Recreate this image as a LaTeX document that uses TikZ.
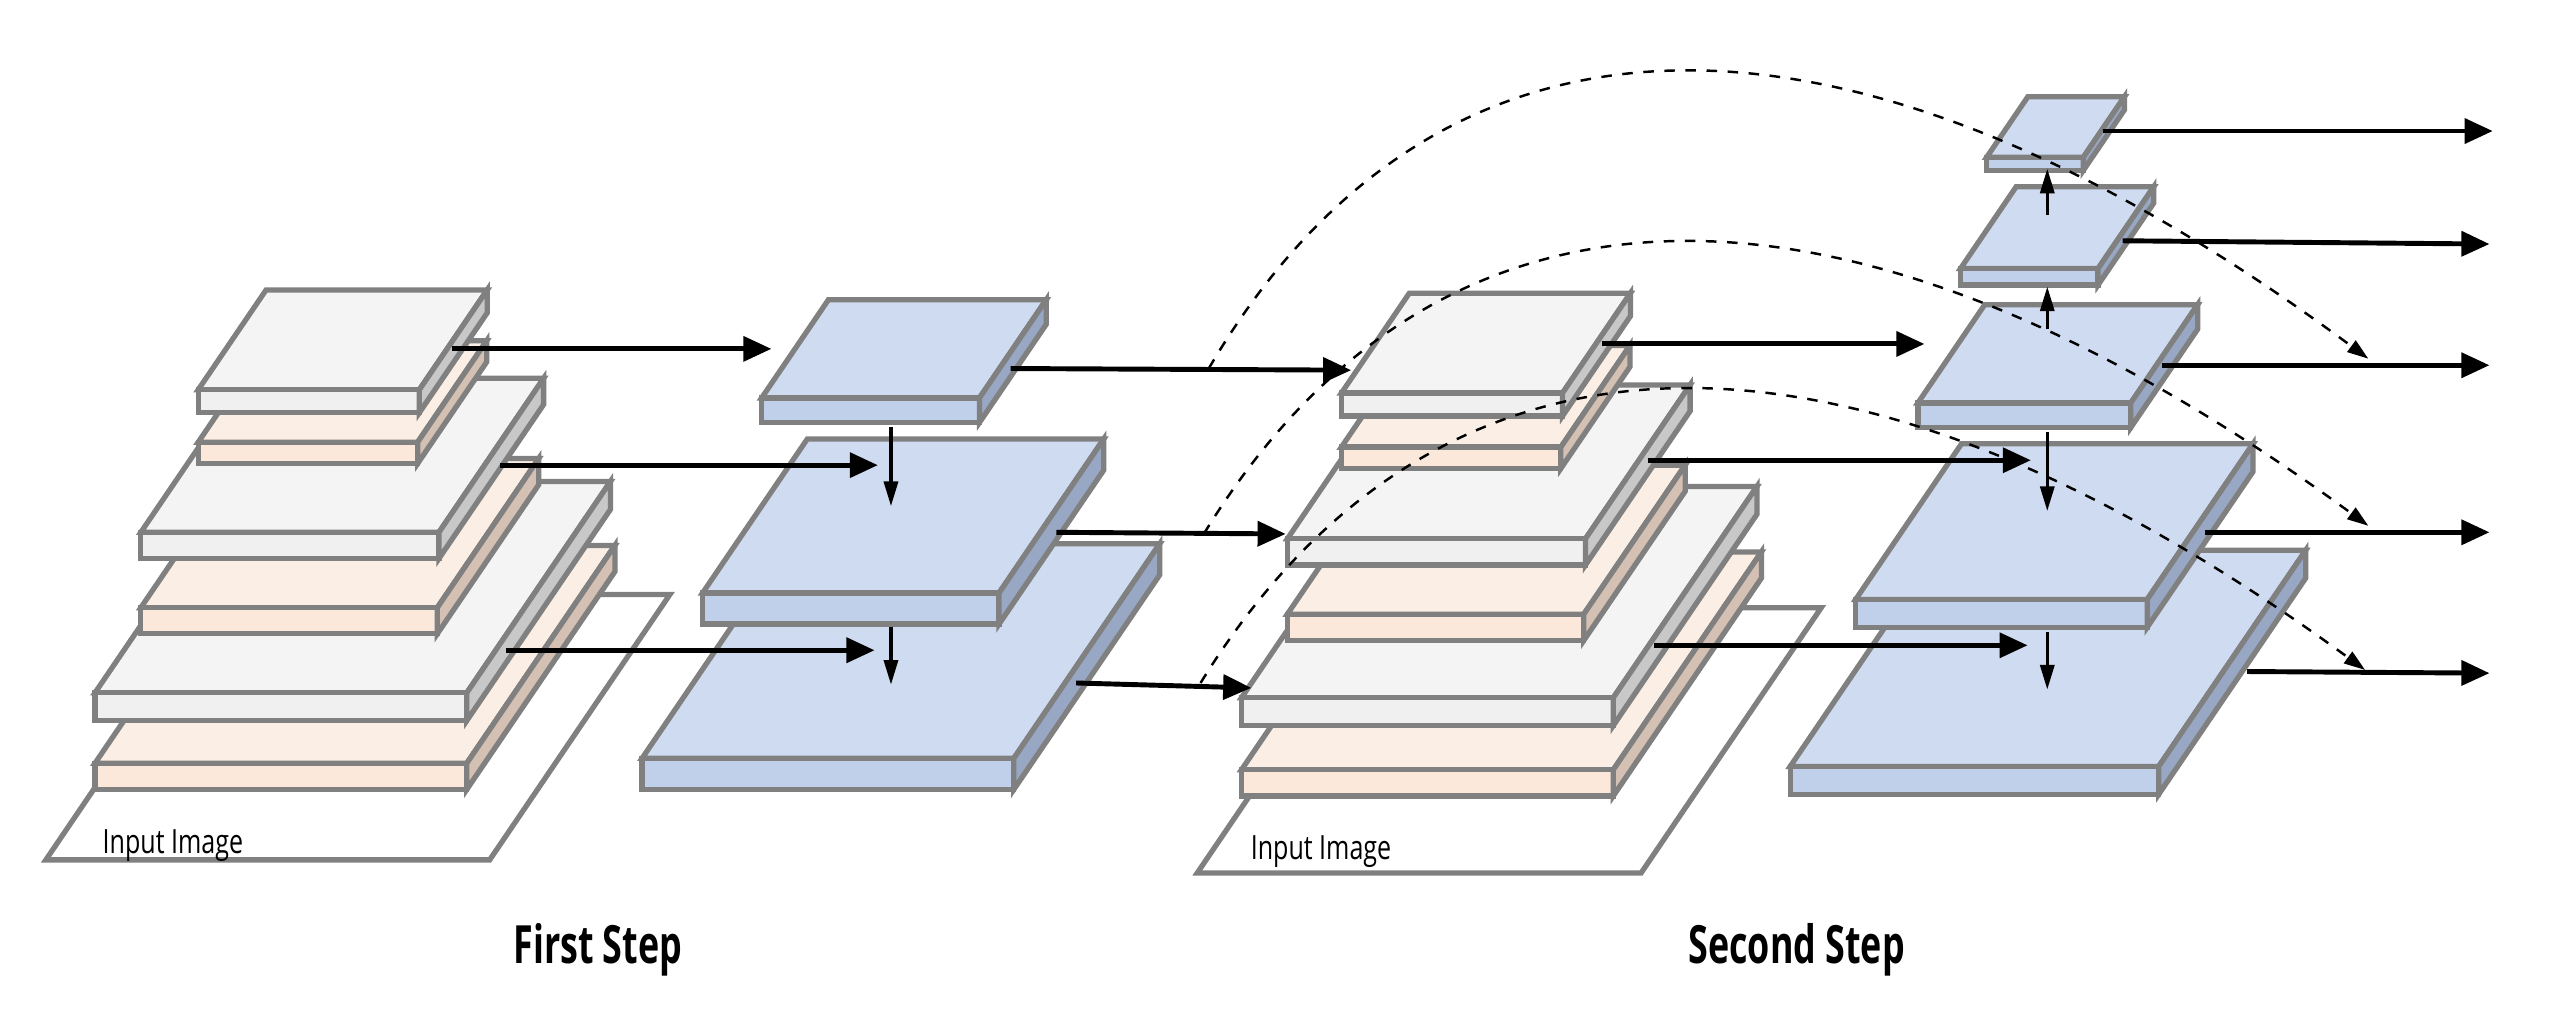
\documentclass[tikz,border=0pt]{standalone}
\usepackage{fontspec}
\setmainfont{Open Sans}
\usetikzlibrary{arrows.meta}

\definecolor{edge}{HTML}{808080}
\definecolor{wtop}{HTML}{F4F4F4}
\definecolor{wfront}{HTML}{F0F0F0}
\definecolor{wside}{HTML}{C8C8C8}
\definecolor{ptop}{HTML}{FBEEE4}
\definecolor{pfront}{HTML}{FBE8DB}
\definecolor{pside}{HTML}{D5C1B3}
\definecolor{btop}{HTML}{CFDBF0}
\definecolor{bfront}{HTML}{C0D0EA}
\definecolor{bside}{HTML}{98A8C4}

\tikzset{
  face/.style = {draw = edge, line width = 1.5pt, line join = miter},
  flow/.style = {line width = 1.4pt, -{Triangle[length = 8pt, width = 7pt]}},
  down/.style = {line width = 0.9pt, -{Triangle[length = 7pt, width = 4pt]}},
  skip/.style = {dashed, line width = 0.7pt, -{Triangle[length = 6pt, width = 4pt]}},
  title/.style = {font = \bfseries\fontsize{15}{18}\selectfont, xscale = 0.68},
  tag/.style = {font = \fontsize{9.5}{11}\selectfont, xscale = 0.75, anchor = west}
}

% slab: front-left top corner (x,y), width, depth, thickness, colour prefix
\newcommand{\slab}[6]{%
  \def\k{0.68}
  \filldraw [face, fill = #6top] (#1,#2) -- ({#1+#3},#2) -- ({#1+#3+\k*#4},{#2-#4}) -- ({#1+\k*#4},{#2-#4}) -- cycle;
  \filldraw [face, fill = #6front] (#1,#2) rectangle ({#1+#3},{#2+#5});
  \filldraw [face, fill = #6side] ({#1+#3},#2) -- ({#1+#3+\k*#4},{#2-#4}) -- ({#1+#3+\k*#4},{#2-#4+#5}) -- ({#1+#3},{#2+#5}) -- cycle;
}

\begin{document}
\begin{tikzpicture}[x = 0.01638cm, y = -0.01638cm]
  \useasboundingbox (0,0) rectangle (1560,620.3);

  % first step: image pyramid
  \filldraw [face, fill = white] (28,525) -- (299,525) -- (409,363) -- (138,363) -- cycle;
  \node [tag] (img1) at (57,516) {Input Image};
  \slab{58}{466}{227}{133}{16}{p}
  \slab{58}{423}{227}{129}{17}{w}
  \slab{86}{371}{181}{91}{16}{p}
  \slab{86}{325}{182}{94}{16}{w}
  \slab{121}{270}{134}{62}{13}{p}
  \slab{121}{238}{135}{61}{14}{w}

  % first step: feature pyramid
  \slab{392}{463}{227}{131}{19}{b}
  \slab{429}{362}{181}{94}{19}{b}
  \slab{465}{243}{133}{60}{15}{b}

  % second step: image pyramid
  \filldraw [face, fill = white] (731,533) -- (1002,533) -- (1112,371) -- (841,371) -- cycle;
  \node [tag] (img2) at (758,520) {Input Image};
  \slab{758}{470}{227}{133}{16}{p}
  \slab{758}{426}{227}{129}{17}{w}
  \slab{786}{375}{181}{91}{16}{p}
  \slab{786}{329}{182}{94}{16}{w}
  \slab{819}{273}{134}{62}{13}{p}
  \slab{819}{240}{135}{61}{14}{w}

  % second step: feature pyramid
  \slab{1093}{468}{225}{132}{17}{b}
  \slab{1133}{366}{178}{95}{17}{b}
  \slab{1171}{246}{130}{60}{15}{b}
  \slab{1197}{164}{84}{50}{10}{b}
  \slab{1213}{96}{59}{37}{8}{b}

  % arrow end points
  \coordinate (a1) at (276,213);   \coordinate (a1e) at (471,213);
  \coordinate (a2) at (305,284);   \coordinate (a2e) at (536,284);
  \coordinate (a3) at (309,397);   \coordinate (a3e) at (534,397);
  \coordinate (v1) at (544,261);   \coordinate (v1e) at (544,309);
  \coordinate (v2) at (544,383);   \coordinate (v2e) at (544,418);
  \coordinate (b1) at (617,225);   \coordinate (b1e) at (825,226);
  \coordinate (b2) at (645,325);   \coordinate (b2e) at (785,326);
  \coordinate (b3) at (657,417);   \coordinate (b3e) at (764,420);
  \coordinate (c1) at (978,210);   \coordinate (c1e) at (1175,210);
  \coordinate (c2) at (1006,281);  \coordinate (c2e) at (1240,281);
  \coordinate (c3) at (1010,394);  \coordinate (c3e) at (1238,394);
  \coordinate (u1) at (1250,131);  \coordinate (u1e) at (1250,103);
  \coordinate (u2) at (1250,201);  \coordinate (u2e) at (1250,175);
  \coordinate (w1) at (1250,264);  \coordinate (w1e) at (1250,312);
  \coordinate (w2) at (1250,386);  \coordinate (w2e) at (1250,421);
  \coordinate (o1) at (1284,80);   \coordinate (o1e) at (1522,80);
  \coordinate (o2) at (1296,147);  \coordinate (o2e) at (1520,149);
  \coordinate (o3) at (1320,223);  \coordinate (o3e) at (1520,223);
  \coordinate (o4) at (1346,325);  \coordinate (o4e) at (1520,325);
  \coordinate (o5) at (1372,410);  \coordinate (o5e) at (1520,411);
  \coordinate (s1) at (738,225);   \coordinate (s1e) at (1446,219);
  \coordinate (s2) at (735,326);   \coordinate (s2e) at (1446,321);
  \coordinate (s3) at (733,417);   \coordinate (s3e) at (1444,409);

  \draw [flow] (a1) -- (a1e);
  \draw [flow] (a2) -- (a2e);
  \draw [flow] (a3) -- (a3e);
  \draw [down] (v1) -- (v1e);
  \draw [down] (v2) -- (v2e);
  \draw [flow] (b1) -- (b1e);
  \draw [flow] (b2) -- (b2e);
  \draw [flow] (b3) -- (b3e);
  \draw [flow] (c1) -- (c1e);
  \draw [flow] (c2) -- (c2e);
  \draw [flow] (c3) -- (c3e);
  \draw [down] (u1) -- (u1e);
  \draw [down] (u2) -- (u2e);
  \draw [down] (w1) -- (w1e);
  \draw [down] (w2) -- (w2e);
  \foreach \o in {o1, o2, o3, o4, o5}
    \draw [flow] (\o) -- (\o e);

  \draw [skip] (s1) .. controls (870,0) and (1110,-30) .. (s1e);
  \draw [skip] (s2) .. controls (870,105) and (1110,75) .. (s2e);
  \draw [skip] (s3) .. controls (870,195) and (1110,165) .. (s3e);

  \node [title] (first) at (365,580) {First Step};
  \node [title] (second) at (1097,580) {Second Step};
\end{tikzpicture}
\end{document}
